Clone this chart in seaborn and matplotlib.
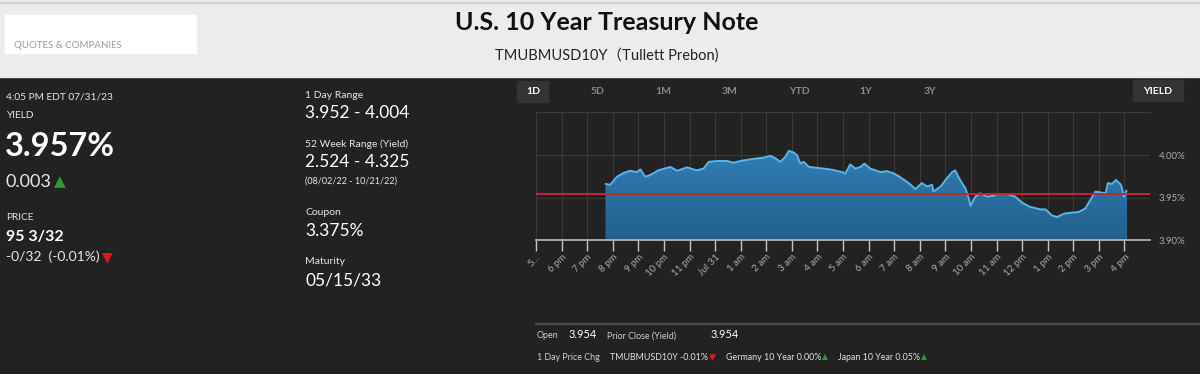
import pandas as pd
import numpy as np
import seaborn as sns
import matplotlib
matplotlib.use("Agg")
import matplotlib.pyplot as plt
import matplotlib.dates as mdates
from matplotlib import font_manager
from matplotlib.patches import Rectangle

# intraday 10y yield, 7/30 evening to 7/31 afternoon
times = [
    "2023-07-30 19:43", "2023-07-30 19:54", "2023-07-30 20:10", "2023-07-30 20:26",
    "2023-07-30 20:41", "2023-07-30 20:57", "2023-07-30 21:05", "2023-07-30 21:16",
    "2023-07-30 21:28", "2023-07-30 21:47", "2023-07-30 22:15", "2023-07-30 22:31",
    "2023-07-30 22:54", "2023-07-30 23:17", "2023-07-30 23:33", "2023-07-30 23:45",
    "2023-07-31 00:05", "2023-07-31 00:28", "2023-07-31 00:43", "2023-07-31 00:59",
    "2023-07-31 01:23", "2023-07-31 01:38", "2023-07-31 01:54", "2023-07-31 02:10",
    "2023-07-31 02:22", "2023-07-31 02:33", "2023-07-31 02:45", "2023-07-31 02:53",
    "2023-07-31 03:04", "2023-07-31 03:12", "2023-07-31 03:20", "2023-07-31 03:28",
    "2023-07-31 03:40", "2023-07-31 03:59", "2023-07-31 04:31", "2023-07-31 04:58",
    "2023-07-31 05:05", "2023-07-31 05:17", "2023-07-31 05:29", "2023-07-31 05:41",
    "2023-07-31 05:50", "2023-07-31 06:04", "2023-07-31 06:28", "2023-07-31 06:43",
    "2023-07-31 06:59", "2023-07-31 07:14", "2023-07-31 07:34", "2023-07-31 07:50",
    "2023-07-31 08:05", "2023-07-31 08:17", "2023-07-31 08:29", "2023-07-31 08:32",
    "2023-07-31 08:49", "2023-07-31 09:04", "2023-07-31 09:16", "2023-07-31 09:23",
    "2023-07-31 09:31", "2023-07-31 09:39", "2023-07-31 09:47", "2023-07-31 09:55",
    "2023-07-31 09:59", "2023-07-31 10:10", "2023-07-31 10:22", "2023-07-31 10:38",
    "2023-07-31 10:53", "2023-07-31 11:01", "2023-07-31 11:25", "2023-07-31 11:44",
    "2023-07-31 12:00", "2023-07-31 12:19", "2023-07-31 12:43", "2023-07-31 12:55",
    "2023-07-31 13:10", "2023-07-31 13:22", "2023-07-31 13:38", "2023-07-31 13:53",
    "2023-07-31 14:13", "2023-07-31 14:28", "2023-07-31 14:40", "2023-07-31 14:52",
    "2023-07-31 15:04", "2023-07-31 15:16", "2023-07-31 15:21", "2023-07-31 15:31",
    "2023-07-31 15:40", "2023-07-31 15:52", "2023-07-31 15:59", "2023-07-31 16:04",
    "2023-07-31 16:05",
]
yields = [
    3.966, 3.965, 3.9745, 3.979, 3.9815, 3.980, 3.983, 3.9745,
    3.9765, 3.982, 3.986, 3.9815, 3.9855, 3.982, 3.984, 3.992,
    3.993, 3.993, 3.991, 3.993, 3.995, 3.996, 3.997, 3.999,
    3.996, 3.992, 3.998, 4.005, 4.003, 4.000, 3.990, 3.992,
    3.986, 3.985, 3.983, 3.980, 3.978, 3.989, 3.984, 3.986,
    3.990, 3.984, 3.980, 3.981, 3.9785, 3.974, 3.967, 3.960,
    3.967, 3.963, 3.965, 3.957, 3.963, 3.973, 3.980, 3.982,
    3.974, 3.967, 3.961, 3.949, 3.940, 3.951, 3.955, 3.951,
    3.952, 3.954, 3.954, 3.951, 3.944, 3.939, 3.936, 3.936,
    3.929, 3.927, 3.931, 3.932, 3.933, 3.937, 3.947, 3.957,
    3.956, 3.955, 3.967, 3.966, 3.9706, 3.965, 3.951, 3.957,
    3.958,
]
prior_close = 3.954

# first label is cut short on the page
tick_labels = ["5…", "6 pm", "7 pm", "8 pm", "9 pm", "10 pm", "11 pm", "Jul 31",
               "1 am", "2 am", "3 am", "4 am", "5 am", "6 am", "7 am", "8 am",
               "9 am", "10 am", "11 am", "12 pm", "1 pm", "2 pm", "3 pm", "4 pm"]
ytick_vals = [3.90, 3.95, 4.00]
ytick_labels = ["3.90%", "3.95%", "4.00%"]
tabs = ["1D", "5D", "1M", "3M", "YTD", "1Y", "3Y"]
tab_x = [533, 598, 663, 730, 799, 866, 930]

df = pd.DataFrame({"time": pd.to_datetime(times), "yield": yields})

sns.set_style("dark")
plt.rcParams["font.family"] = ["Lato", "DejaVu Sans", "Noto Sans CJK JP"]

# a narrow face for the footer line, if there is one
names = {f.name for f in font_manager.fontManager.ttflist}
if "Liberation Sans Narrow" in names:
    NARROW, NSIZE = ["Liberation Sans Narrow", "DejaVu Sans"], 7.5
else:
    NARROW, NSIZE = ["Lato", "DejaVu Sans"], 6.4

BG = "#222222"
W, H = 1200, 374
fig = plt.figure(figsize=(12, 3.74), dpi=100, facecolor=BG)
R = fig.canvas.get_renderer()


def fx(x):
    return x / W


def fy(y):
    return 1 - y / H


def txt(x, y, s, size, color="#e6e6e6", weight="normal", ha="left", **kw):
    return fig.text(fx(x), fy(y), s, fontsize=size, color=color, weight=weight,
                    ha=ha, va="center", **kw)


def right_edge(t):
    return t.get_window_extent(renderer=R).x1


def arrow_after(t, sym, color, size, gap=2):
    bb = t.get_window_extent(renderer=R)
    ymid = (bb.y0 + bb.y1) / 2
    a = fig.text((bb.x1 + gap) / W, ymid / H, sym, fontsize=size, color=color,
                 va="center", ha="left", family=["DejaVu Sans"])
    return a


# header strip
fig.patches.append(Rectangle((0, fy(77)), 1, 77 / H, transform=fig.transFigure,
                             color="#ececec", zorder=0))
fig.patches.append(Rectangle((0, fy(3)), 1, 1 / H, transform=fig.transFigure,
                             color="#d4d4d4", zorder=1))
fig.patches.append(Rectangle((fx(5), fy(53)), 191 / W, 38 / H, transform=fig.transFigure,
                             color="white", zorder=1))
txt(14, 45, "QUOTES & COMPANIES", 7, color="#9a9a9a")
txt(607, 22, "U.S. 10 Year Treasury Note", 18, color="#111111", weight="bold", ha="center")
txt(607, 55, "TMUBMUSD10Y（Tullett Prebon)", 10.5, color="#222222", ha="center")

# left panel
txt(6, 97, "4:05 PM EDT 07/31/23", 7.3)
txt(6, 115, "YIELD", 7.3)
txt(5, 146, "3.957%", 23.5, color="white", weight="bold")
t = txt(6, 182, "0.003", 13)
arrow_after(t, "▲", "#2e9a35", 11)
txt(6, 217, "PRICE", 7.3)
txt(6, 237, "95 3/32", 11.5, color="white", weight="bold")
t = txt(6, 257, "-0/32  (-0.01%)", 10)
arrow_after(t, "▼", "#e3161e", 10)

# middle panel
txt(305, 95, "1 Day Range", 7.5)
txt(305, 113, "3.952 - 4.004", 12.5, color="white")
txt(305, 144, "52 Week Range (Yield)", 7.5)
txt(305, 162, "2.524 - 4.325", 12.5, color="white")
txt(305, 181, "(08/02/22 - 10/21/22)", 6.5)
txt(305, 212, "Coupon", 7.5)
txt(305, 231, "3.375%", 12.5, color="white")
txt(305, 261, "Maturity", 7.5)
txt(305, 280, "05/15/33", 12.5, color="white")

# period tabs
fig.patches.append(Rectangle((fx(517), fy(102)), 31 / W, 21 / H, transform=fig.transFigure,
                             color="#343434", zorder=1))
fig.patches.append(Rectangle((fx(1133), fy(101)), 50 / W, 21 / H, transform=fig.transFigure,
                             color="#343434", zorder=1))
for lab, x in zip(tabs, tab_x):
    txt(x, 91, lab, 7.5, color="white" if lab == "1D" else "#8a8a8a", weight="bold", ha="center")
txt(1158, 91, "YIELD", 7.5, color="white", weight="bold", ha="center")

# chart
ax = fig.add_axes([fx(536), fy(240), (1150 - 536) / W, (240 - 111.7) / H])
ax.set_facecolor(BG)
x0 = pd.Timestamp("2023-07-30 17:00")
x1 = pd.Timestamp("2023-07-31 17:00")

poly = ax.fill_between(df["time"], df["yield"], 3.90, color="#2b6e9f", lw=0, zorder=2)
grad = np.linspace(0, 1, 100).reshape(-1, 1)
cmap = matplotlib.colors.LinearSegmentedColormap.from_list("g", ["#3180b8", "#235f8c"])
im = ax.imshow(grad, cmap=cmap, aspect="auto", zorder=2.1,
               extent=[mdates.date2num(x0), mdates.date2num(x1), 3.90, 4.01], origin="upper")
im.set_clip_path(poly.get_paths()[0], transform=ax.transData)
sns.lineplot(data=df, x="time", y="yield", ax=ax, color="#5ab3e6", lw=1.4, zorder=3)
ax.axhline(prior_close, color="#c1272d", lw=1.4, zorder=4)
ax.set_xlim(x0, x1)
ax.set_ylim(3.90, 4.051)

ticks = pd.date_range("2023-07-30 17:00", "2023-07-31 16:00", freq="h")
ax.set_xticks(ticks)
ax.set_xticklabels(tick_labels)
ax.set_yticks(ytick_vals)
ax.set_yticklabels(ytick_labels)
ax.yaxis.tick_right()
ax.set_xlabel("")
ax.set_ylabel("")
ax.grid(True, color="#3a3a3a", lw=0.8)
ax.set_axisbelow(True)
ax.tick_params(axis="x", direction="out", length=8, width=1, color="#c8c8c8",
               labelsize=7, labelcolor="#aaaaaa", pad=1, bottom=True)
ax.tick_params(axis="y", length=0, labelsize=7, labelcolor="#aaaaaa", pad=6, right=True)
for lab in ax.get_xticklabels():
    lab.set_rotation(45)
    lab.set_ha("right")
    lab.set_rotation_mode("anchor")
for side in ["top", "left"]:
    ax.spines[side].set_color("#3a3a3a")
    ax.spines[side].set_linewidth(0.8)
ax.spines["right"].set_visible(False)
ax.spines["bottom"].set_color("#bdbdbd")
ax.spines["bottom"].set_linewidth(1.2)

# footer
fig.patches.append(Rectangle((fx(535), fy(324)), 665 / W, 1 / H, transform=fig.transFigure,
                             color="#4a4a4a", zorder=1))


def foot(x, y, s, size, color, prev=None, gap=6):
    if prev is not None:
        x = max(x, right_edge(prev) + gap)
    return txt(x, y, s, size, color=color, family=NARROW)


f = foot(537, 336, "Open", NSIZE, "#cfcfcf")
f = foot(569, 335, "3.954", NSIZE + 1.5, "white", f, 4)
f = foot(593, 336, "Prior Close (Yield)", NSIZE, "#cfcfcf", f, 10)
f = foot(711, 335, "3.954", NSIZE + 1.5, "white", f, 4)

f = foot(537, 357, "1 Day Price Chg", NSIZE, "#cfcfcf")
f = foot(607, 357, "TMUBMUSD10Y -0.01%", NSIZE, "#e0e0e0", f, 10)
f = arrow_after(f, "▼", "#e3161e", 6.5, gap=1)
f = foot(718, 357, "Germany 10 Year 0.00%", NSIZE, "#e0e0e0", f, 10)
f = arrow_after(f, "▲", "#2e9a35", 5.5, gap=1)
f = foot(828, 357, "Japan 10 Year 0.05%", NSIZE, "#e0e0e0", f, 10)
arrow_after(f, "▲", "#2e9a35", 5.5, gap=1)

fig.savefig("out.png", dpi=100, facecolor=BG)
